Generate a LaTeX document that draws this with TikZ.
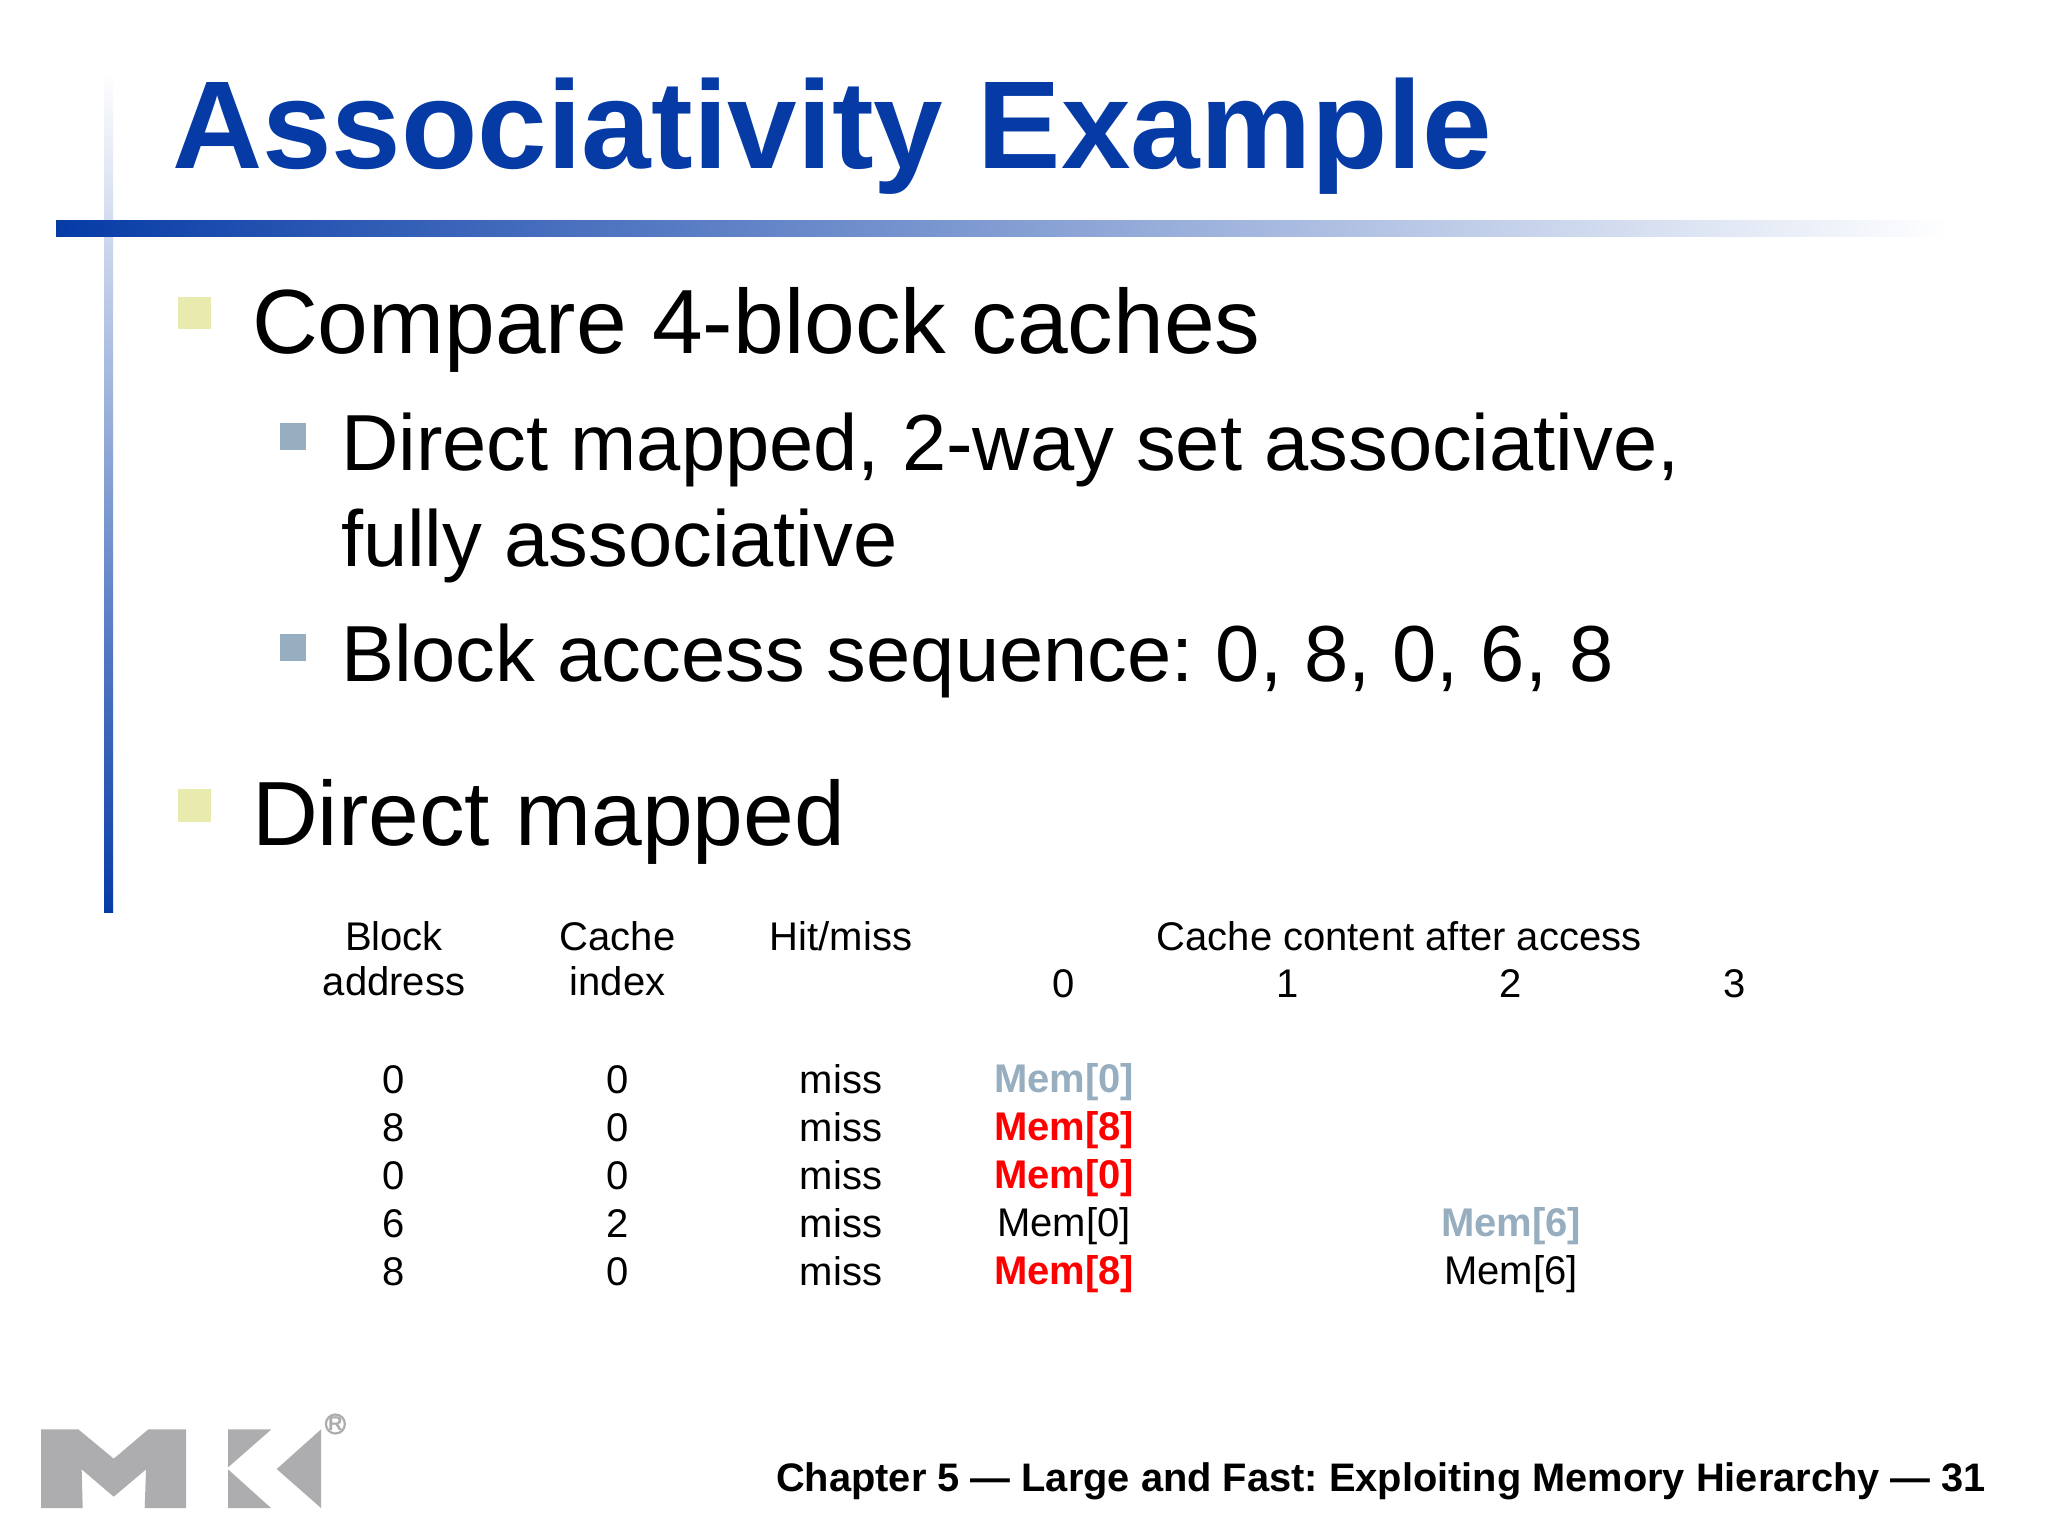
\documentclass[tikz,border=0pt]{standalone}
\usepackage{fontspec}
\setmainfont{Liberation Sans}
\definecolor{ttl}{HTML}{063BA6}
\definecolor{yb}{HTML}{E9EAAE}
\definecolor{gb}{HTML}{96AEBF}
\definecolor{logo}{HTML}{ADACAF}
\definecolor{rd}{HTML}{FF0000}
\frenchspacing
\tikzset{
 txt/.style={inner sep=0pt,outer sep=0pt,anchor=base west,text=black},
 title/.style={txt,text=ttl,font=\fontsize{62.5}{70}\selectfont\bfseries},
 lone/.style={txt,font=\fontsize{45.6}{50}\selectfont},
 ltwo/.style={txt,font=\fontsize{39.75}{44}\selectfont},
 tb/.style={inner sep=0pt,outer sep=0pt,anchor=base,text=black,font=\fontsize{20}{24}\selectfont},
 tbb/.style={tb,font=\fontsize{20}{24}\selectfont\bfseries},
 foot/.style={inner sep=0pt,outer sep=0pt,anchor=base east,font=\fontsize{19.9}{24}\selectfont\bfseries},
}
\begin{document}
\begin{tikzpicture}[x=0.5pt,y=-0.5pt]
\useasboundingbox (0,0) rectangle (2048,1536);
\fill[white] (0,0) rectangle (2048,1536);
% rules
\shade[top color=white,bottom color=ttl] (104,70) rectangle (113,912);
\shade[left color=ttl,right color=white] (56,220) rectangle (1950,236);
% title
\node[title] (t) at (172,168) {Associativity Example};
% bullets
\fill[yb] (178,297) rectangle (211,329);
\fill[yb] (178,789) rectangle (211,822);
\fill[gb] (280,423) rectangle (306,450);
\fill[gb] (280,634) rectangle (306,661);
\node[lone] (a) at (252,353) {Compare 4-block caches};
\node[ltwo] (b1) at (341,470) {Direct mapped, 2-way set associative,};
\node[ltwo] (b2) at (341,566) {fully associative};
\node[ltwo] (c) at (341,681) {Block access sequence: 0, 8, 0, 6, 8};
\node[lone] (d) at (252,845) {Direct mapped};
% table head
\node[tb] (h1a) at (394,950) {Block};
\node[tb] (h1b) at (394,995) {address};
\node[tb] (h2a) at (617.5,950) {Cache};
\node[tb] (h2b) at (617.5,995) {index};
\node[tb] (h3) at (841,950) {Hit/miss};
\node[tb] (h4) at (1399,950) {Cache content after access};
\node[tb] (n0) at (1064,997) {0};
\node[tb] (n1) at (1288,997) {1};
\node[tb] (n2) at (1511,997) {2};
\node[tb] (n3) at (1735,997) {3};
% rows
\node[tb] (r1a) at (394,1093) {0};
\node[tb] (r2a) at (394,1141) {8};
\node[tb] (r3a) at (394,1189) {0};
\node[tb] (r4a) at (394,1237) {6};
\node[tb] (r5a) at (394,1285) {8};
\node[tb] (r1b) at (617.5,1093) {0};
\node[tb] (r2b) at (617.5,1141) {0};
\node[tb] (r3b) at (617.5,1189) {0};
\node[tb] (r4b) at (617.5,1237) {2};
\node[tb] (r5b) at (617.5,1285) {0};
\node[tb] (r1c) at (841,1093) {miss};
\node[tb] (r2c) at (841,1141) {miss};
\node[tb] (r3c) at (841,1189) {miss};
\node[tb] (r4c) at (841,1237) {miss};
\node[tb] (r5c) at (841,1285) {miss};
\node[tbb,text=gb] (r1d) at (1064,1092.5) {Mem[0]};
\node[tbb,text=rd] (r2d) at (1064,1140.5) {Mem[8]};
\node[tbb,text=rd] (r3d) at (1064,1188.5) {Mem[0]};
\node[tb] (r4d) at (1064,1236.5) {Mem[0]};
\node[tbb,text=rd] (r5d) at (1064,1284.5) {Mem[8]};
\node[tbb,text=gb] (r4f) at (1511,1236.5) {Mem[6]};
\node[tb] (r5f) at (1511,1284.5) {Mem[6]};
% footer
\node[foot] (f) at (1986,1491) {Chapter 5 — Large and Fast: Exploiting Memory Hierarchy — 31};
% logo
\begin{scope}[shift={(0,1380)},x=0.1667pt,y=-0.1667pt]
\fill[logo] (123,148)--(235,148)--(341,236)--(445,148)--(558,148)--(558,384)--(434,384)--(438,268)--(341,350)--(245,268)--(248,384)--(123,384)--cycle;
\fill[logo] (684,148)--(814,148)--(684,262)--cycle;
\fill[logo] (684,268)--(813,384)--(684,384)--cycle;
\fill[logo] (963,148)--(963,384)--(830,267)--cycle;
\draw[logo,line width=1.1pt] (1006,132) circle (28.5);
\node[inner sep=0pt,text=logo,font=\fontsize{10}{10}\selectfont\bfseries] (reg) at (1006,132) {R};
\end{scope}
\end{tikzpicture}
\end{document}
